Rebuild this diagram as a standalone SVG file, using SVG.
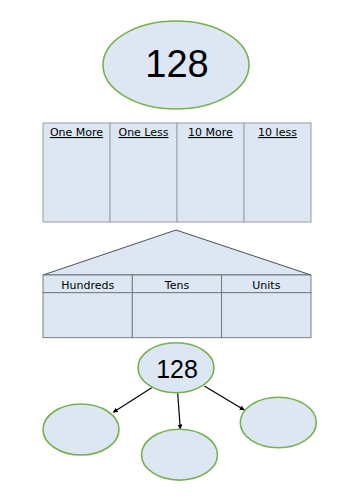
<svg xmlns="http://www.w3.org/2000/svg" width="354" height="500" viewBox="0 0 354 500">
<style>
.ell{fill:#dde7f3;stroke:#77b150;stroke-width:1.6}
.cell{fill:#dde7f3;stroke:#a6abb2;stroke-width:1.2}
.cell2{fill:#dde7f3;stroke:#6f7277;stroke-width:0.9}
.num{font-family:"Liberation Sans",Arial,sans-serif;fill:#000;text-anchor:middle}
.hd{font-family:"DejaVu Sans",sans-serif;font-size:11px;fill:#000;text-anchor:middle}
.ul{text-decoration:underline}
.conn{stroke:#000;stroke-width:1.2;fill:none;marker-end:url(#ah)}
</style>
<defs>
<marker id="ah" viewBox="0 0 10 10" refX="9" refY="5" markerWidth="5" markerHeight="5" orient="auto" markerUnits="userSpaceOnUse">
<path d="M0,0 L10,5 L0,10 z" fill="#000"/>
</marker>
</defs>
<rect width="354" height="500" fill="#fff"/>
<g id="top-number">
<ellipse class="ell" cx="176" cy="65" rx="73" ry="44"/>
<text class="num" x="177" y="77" font-size="38">128</text>
</g>
<g id="more-less-table">
<rect class="cell" x="43" y="123" width="67" height="99"/>
<rect class="cell" x="110" y="123" width="67" height="99"/>
<rect class="cell" x="177" y="123" width="67" height="99"/>
<rect class="cell" x="244" y="123" width="67" height="99"/>
<text class="hd ul" x="76.5" y="136">One More</text>
<text class="hd ul" x="143.5" y="136">One Less</text>
<text class="hd ul" x="210.5" y="136">10 More</text>
<text class="hd ul" x="277.5" y="136">10 less</text>
</g>
<g id="place-value-house">
<polygon points="176,230 311,275 43,275" fill="#dde7f3" stroke="#4d4f52" stroke-width="1"/>
<rect class="cell2" x="43" y="275" width="89.3" height="17.7"/>
<rect class="cell2" x="132.3" y="275" width="89.3" height="17.7"/>
<rect class="cell2" x="221.6" y="275" width="89.4" height="17.7"/>
<rect class="cell2" x="43" y="292.7" width="89.3" height="45"/>
<rect class="cell2" x="132.3" y="292.7" width="89.3" height="45"/>
<rect class="cell2" x="221.6" y="292.7" width="89.4" height="45"/>
<text class="hd" x="87.7" y="289">Hundreds</text>
<text class="hd" x="177" y="289">Tens</text>
<text class="hd" x="266.3" y="289">Units</text>
</g>
<g id="connectors">
<line class="conn" x1="151.7" y1="387.7" x2="113.3" y2="412.3"/>
<line class="conn" x1="177.7" y1="393.3" x2="180.3" y2="429"/>
<line class="conn" x1="204.3" y1="386" x2="244.3" y2="410"/>
</g>
<g id="center-number">
<ellipse class="ell" cx="176" cy="367.7" rx="38" ry="25"/>
<text class="num" x="177" y="378.3" font-size="25">128</text>
</g>
<g id="part-left">
<ellipse class="ell" cx="81" cy="429.5" rx="38" ry="25.5"/>
</g>
<g id="part-middle">
<ellipse class="ell" cx="179.5" cy="454.7" rx="38" ry="25.4"/>
</g>
<g id="part-right">
<ellipse class="ell" cx="278.3" cy="422.5" rx="38" ry="25.2"/>
</g>
</svg>
